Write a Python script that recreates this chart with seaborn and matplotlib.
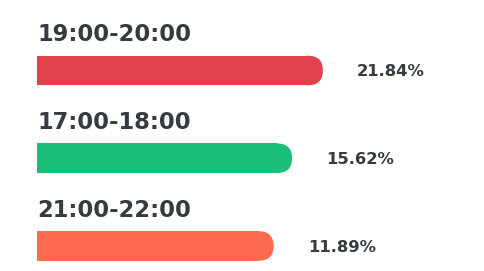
import numpy as np
import pandas as pd
import matplotlib
matplotlib.use("Agg")
import matplotlib.pyplot as plt
from matplotlib.patches import FancyBboxPatch
import seaborn as sns

# data
categories = ["19:00-20:00", "17:00-18:00", "21:00-22:00"]
values = [21.84, 15.62, 11.89]
labels = ["21.84%", "15.62%", "11.89%"]
colors = ["#E0414A", "#19BE78", "#FF6B51"]

sns.set_theme(style="white")
plt.rcParams["font.family"] = ["DejaVu Sans"]

W, H = 484, 271
fig = plt.figure(figsize=(W / 100, H / 100), dpi=100)
ax = fig.add_axes([0, 0, 1, 1])

df = pd.DataFrame({"cat": categories, "val": values})
BAR_H = 0.336
sns.barplot(data=df, x="val", y="cat", hue="cat", palette=colors,
            legend=False, orient="h", width=BAR_H, ax=ax, saturation=1)

XMIN, XMAX = -43.4, 54.4
YMIN, YMAX = 2.285, -0.803
ax.set_xlim(XMIN, XMAX)
ax.set_ylim(YMIN, YMAX)
ax.axis("off")

BASE = -35.9  # left start of bars (layout)
px_per_x = W / (XMAX - XMIN)
px_per_y = H / (YMIN - YMAX)
r_px = BAR_H * px_per_y / 2
r_x = r_px / px_per_x
aspect = px_per_x / px_per_y

text_color = "#353B41"
for p, v, lab, cat, col in zip(ax.patches, values, labels, categories, colors):
    y0 = p.get_y()
    h = p.get_height()
    yc = y0 + h / 2
    p.set_x(BASE)
    p.set_width(v - BASE - r_x)
    p.set_linewidth(0)
    p.set_edgecolor("none")
    cap = FancyBboxPatch((v - 2 * r_x, y0), 2 * r_x, h,
                         boxstyle=f"round,pad=0,rounding_size={r_x}",
                         mutation_aspect=aspect, facecolor=col,
                         edgecolor="none", linewidth=0)
    ax.add_patch(cap)
    ax.text(BASE, yc - 0.405, cat, ha="left", va="center",
            fontsize=16.3, fontweight="bold", color=text_color)
    ax.text(v + 6.9, yc + 0.015, lab, ha="left", va="center",
            fontsize=11.8, fontweight="bold", color=text_color)

fig.savefig("out.png", dpi=100, facecolor="white")
